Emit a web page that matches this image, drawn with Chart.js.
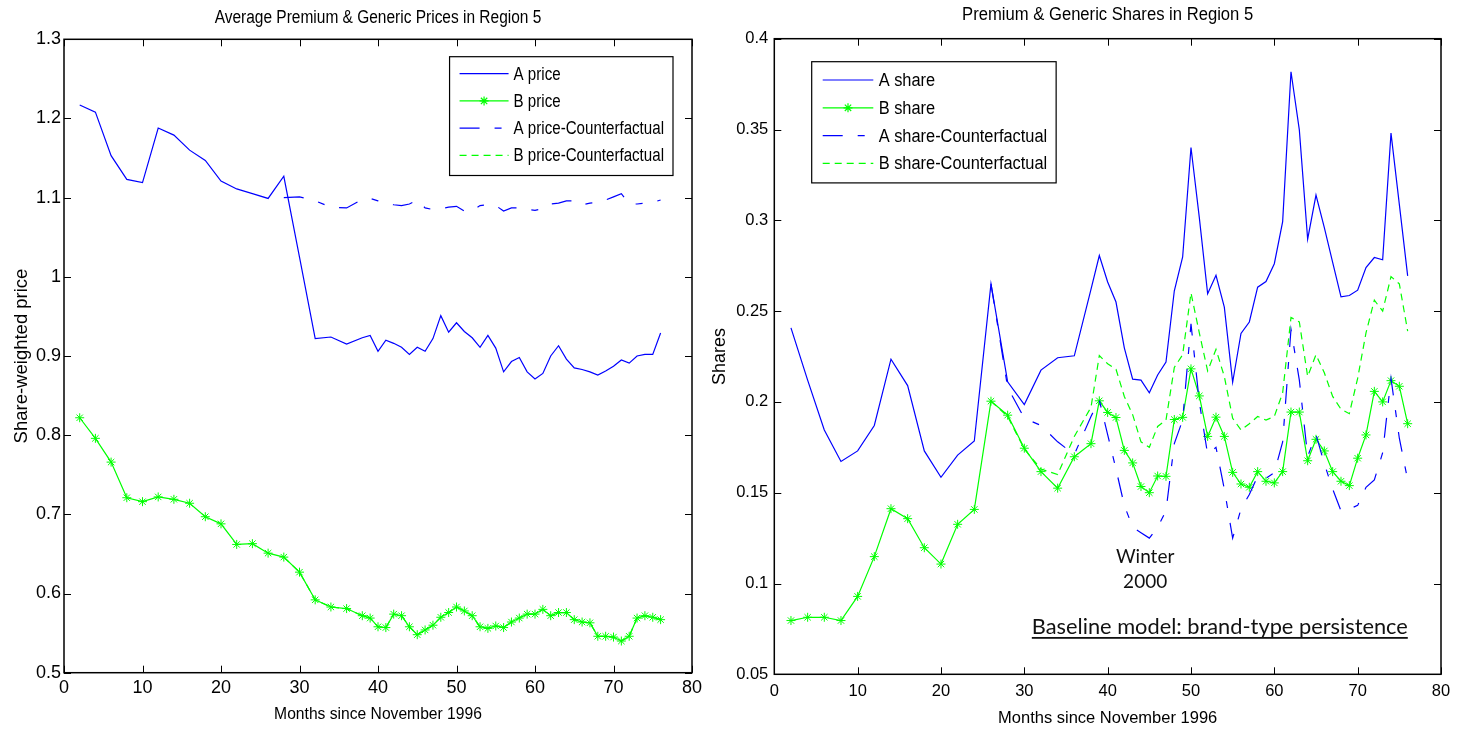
<!DOCTYPE html>
<html>
<head>
<meta charset="utf-8">
<script src="https://cdn.jsdelivr.net/npm/chart.js@4.4.1/dist/chart.umd.min.js"></script>
<style>
  html, body { margin: 0; padding: 0; background: #fff; }
  #wrap { position: relative; width: 1459px; height: 729px; }
  canvas { position: absolute; left: 0; top: 0; }
</style>
</head>
<body>
<div id="wrap">
  <canvas id="prices" width="1459" height="729"></canvas>
  <canvas id="shares" width="1459" height="729"></canvas>
</div>
<script>
// months since November 1996: every other month at first, then monthly
const months = [
  2, 4, 6, 8, 10, 12, 14, 16, 18, 20, 22, 24, 26, 28, 30, 32, 34, 36,
  38, 39, 40, 41, 42, 43, 44, 45, 46, 47, 48, 49, 50, 51, 52, 53, 54, 55, 56, 57,
  58, 59, 60, 61, 62, 63, 64, 65, 66, 67, 68, 69, 70, 71, 72, 73, 74, 75, 76
];
const priceCfMonths = [
  28, 30, 32, 34, 36,
  38, 39, 40, 41, 42, 43, 44, 45, 46, 47, 48, 49, 50, 51, 52, 53, 54, 55, 56, 57,
  58, 59, 60, 61, 62, 63, 64, 65, 66, 67, 68, 69, 70, 71, 72, 73, 74, 75, 76
];
const shareCfMonths = [
  26, 28, 30, 32, 34, 36,
  38, 39, 40, 41, 42, 43, 44, 45, 46, 47, 48, 49, 50, 51, 52, 53, 54, 55, 56, 57,
  58, 59, 60, 61, 62, 63, 64, 65, 66, 67, 68, 69, 70, 71, 72, 73, 74, 75, 76
];

// share-weighted prices
const priceA = [
  1.217, 1.208, 1.153, 1.123, 1.119, 1.188, 1.179, 1.160, 1.147, 1.121, 1.111, 1.105, 1.099, 1.127, 1.025, 0.922, 0.924, 0.915,
  0.923, 0.926, 0.906, 0.920, 0.916, 0.911, 0.902, 0.911, 0.906, 0.922, 0.951, 0.930, 0.942, 0.931, 0.923, 0.911, 0.926, 0.910, 0.880, 0.893,
  0.898, 0.880, 0.871, 0.878, 0.900, 0.913, 0.896, 0.885, 0.883, 0.880, 0.876, 0.881, 0.887, 0.895, 0.891, 0.900, 0.902, 0.902, 0.929
];
const priceB = [
  0.822, 0.796, 0.766, 0.721, 0.716, 0.722, 0.719, 0.714, 0.697, 0.688, 0.662, 0.663, 0.651, 0.646, 0.627, 0.592, 0.583, 0.581,
  0.572, 0.569, 0.558, 0.557, 0.574, 0.572, 0.558, 0.548, 0.554, 0.560, 0.570, 0.576, 0.583, 0.578, 0.572, 0.558, 0.556, 0.559, 0.557, 0.564,
  0.569, 0.574, 0.574, 0.580, 0.572, 0.576, 0.576, 0.567, 0.564, 0.563, 0.546, 0.546, 0.545, 0.540, 0.546, 0.569, 0.572, 0.570, 0.567
];
const priceACf = [
  1.100, 1.101, 1.096, 1.088, 1.087,
  1.098, 1.099, 1.096, 1.093, 1.091, 1.090, 1.092, 1.097, 1.087, 1.085, 1.086, 1.088, 1.089, 1.083, 1.083, 1.090, 1.091, 1.090, 1.083, 1.087,
  1.087, 1.085, 1.084, 1.086, 1.092, 1.093, 1.096, 1.096, 1.091, 1.093, 1.094, 1.097, 1.101, 1.105, 1.092, 1.092, 1.093, 1.094, 1.097
];
// the generic counterfactual price coincides with the observed one
const priceBCf = priceB.slice(months.indexOf(28));

// market shares
const shareA = [
  0.2408, 0.2120, 0.1845, 0.1672, 0.1730, 0.1870, 0.2235, 0.2090, 0.1730, 0.1585, 0.1707, 0.1785, 0.2650, 0.2111, 0.1985, 0.2175, 0.2243, 0.2254,
  0.2620, 0.2806, 0.2660, 0.2550, 0.2298, 0.2125, 0.2120, 0.2050, 0.2148, 0.2220, 0.2612, 0.2798, 0.3401, 0.3015, 0.2595, 0.2697, 0.2522, 0.2108, 0.2377, 0.2440,
  0.2632, 0.2663, 0.2761, 0.2993, 0.3818, 0.3498, 0.2896, 0.3139, 0.2960, 0.2768, 0.2578, 0.2586, 0.2615, 0.2740, 0.2795, 0.2783, 0.3480, 0.3088, 0.2694
];
const shareB = [
  0.0796, 0.0814, 0.0814, 0.0796, 0.0929, 0.1148, 0.1412, 0.1357, 0.1197, 0.1107, 0.1326, 0.1408, 0.2004, 0.1927, 0.1745, 0.1616, 0.1525, 0.1698,
  0.1770, 0.2006, 0.1942, 0.1914, 0.1733, 0.1664, 0.1534, 0.1500, 0.1592, 0.1590, 0.1903, 0.1915, 0.2182, 0.2033, 0.1810, 0.1916, 0.1810, 0.1612, 0.1548, 0.1530,
  0.1616, 0.1563, 0.1554, 0.1616, 0.1944, 0.1944, 0.1676, 0.1794, 0.1730, 0.1616, 0.1563, 0.1539, 0.1690, 0.1818, 0.2058, 0.2000, 0.2117, 0.2086, 0.1880
];
const shareACf = [
  0.2650, 0.2080, 0.1910, 0.1870, 0.1780, 0.1710,
  0.1920, 0.2010, 0.1820, 0.1630, 0.1430, 0.1310, 0.1280, 0.1250, 0.1310, 0.1400, 0.1770, 0.1900, 0.2430, 0.2000, 0.1710, 0.1750, 0.1520, 0.1250, 0.1410, 0.1490,
  0.1590, 0.1580, 0.1610, 0.1780, 0.2400, 0.2120, 0.1700, 0.1820, 0.1660, 0.1520, 0.1400, 0.1410, 0.1430, 0.1530, 0.1570, 0.1720, 0.2130, 0.1800, 0.1570
];
const shareBCf = [
  0.2004, 0.1920, 0.1740, 0.1630, 0.1600, 0.1810,
  0.1970, 0.2255, 0.2210, 0.2180, 0.2030, 0.1930, 0.1780, 0.1750, 0.1865, 0.1900, 0.2190, 0.2260, 0.2600, 0.2380, 0.2170, 0.2290, 0.2140, 0.1910, 0.1845, 0.1880,
  0.1920, 0.1900, 0.1920, 0.2050, 0.2465, 0.2440, 0.2140, 0.2260, 0.2160, 0.2030, 0.1960, 0.1935, 0.2130, 0.2380, 0.2560, 0.2500, 0.2690, 0.2650, 0.2390
];

const BLUE = '#0000ff';
const GREEN = '#00ff00';
const SANS = "'Liberation Sans', Arial, sans-serif";

const pts = (xs, ys) => ys.map((y, i) => ({ x: xs[i], y: y }));

function lineSet(label, xs, ys, color, extra) {
  return Object.assign({
    label: label,
    data: pts(xs, ys),
    borderColor: color,
    backgroundColor: color,
    borderWidth: 1.2,
    pointRadius: 0,
    fill: false,
    tension: 0
  }, extra);
}
const starMarks = { pointStyle: 'star', pointRadius: 4.5, pointBorderWidth: 1, pointHoverRadius: 4.5 };

// text drawn with a horizontal squeeze factor
function squeezed(ctx, text, x, y, sx, align, rot) {
  ctx.save();
  ctx.translate(x, y);
  if (rot) ctx.rotate(rot);
  ctx.scale(sx, 1);
  ctx.textAlign = align || 'center';
  ctx.fillText(text, 0, 0);
  ctx.restore();
}

// box, inward ticks, titles, legend and notes in the style of a MATLAB figure
const frame = {
  id: 'frame',
  afterDraw(chart, args, o) {
    const ctx = chart.ctx;
    const a = chart.chartArea;
    const xs = chart.scales.x, ys = chart.scales.y;
    ctx.save();
    ctx.strokeStyle = '#000';
    ctx.lineWidth = 1.5;
    ctx.strokeRect(a.left, a.top, a.right - a.left, a.bottom - a.top);
    ctx.lineWidth = 1;
    ctx.beginPath();
    xs.ticks.forEach(t => {
      const px = Math.round(xs.getPixelForValue(t.value)) + 0.5;
      ctx.moveTo(px, a.bottom); ctx.lineTo(px, a.bottom - 7);
      ctx.moveTo(px, a.top); ctx.lineTo(px, a.top + 7);
    });
    ys.ticks.forEach(t => {
      const py = Math.round(ys.getPixelForValue(t.value)) + 0.5;
      ctx.moveTo(a.left, py); ctx.lineTo(a.left + 7, py);
      ctx.moveTo(a.right, py); ctx.lineTo(a.right - 7, py);
    });
    ctx.stroke();

    const cx = (a.left + a.right) / 2, cy = (a.top + a.bottom) / 2;
    ctx.fillStyle = '#000';
    ctx.textBaseline = 'alphabetic';
    ctx.font = o.title.size + 'px ' + SANS;
    squeezed(ctx, o.title.text, cx, o.title.y, o.title.sx);
    ctx.font = o.xLabel.size + 'px ' + SANS;
    squeezed(ctx, o.xLabel.text, cx, o.xLabel.y, o.xLabel.sx);
    ctx.font = o.yLabel.size + 'px ' + SANS;
    squeezed(ctx, o.yLabel.text, o.yLabel.x, cy, o.yLabel.sx, 'center', -Math.PI / 2);

    // legend
    const lg = o.legend;
    ctx.font = lg.size + 'px ' + SANS;
    const sets = chart.data.datasets;
    const tw = Math.max(...sets.map(d => ctx.measureText(d.label).width)) * lg.sx;
    const w = lg.textX + tw + 9;
    const h = lg.rowGap * sets.length + 10;
    const bx = lg.side === 'right' ? a.right - lg.dx - w : a.left + lg.dx;
    const by = a.top + lg.dy;
    ctx.fillStyle = '#fff';
    ctx.fillRect(bx, by, w, h);
    ctx.strokeStyle = '#000';
    ctx.lineWidth = 1.2;
    ctx.strokeRect(bx, by, w, h);
    sets.forEach((d, i) => {
      const ry = by + lg.firstRow + i * lg.rowGap;
      ctx.save();
      ctx.strokeStyle = d.borderColor;
      ctx.lineWidth = d.borderWidth;
      ctx.setLineDash(d.borderDash || []);
      ctx.beginPath();
      ctx.moveTo(bx + lg.lineX0, ry);
      ctx.lineTo(bx + lg.lineX1, ry);
      ctx.stroke();
      ctx.restore();
      if (d.pointStyle === 'star') {
        ctx.save();
        ctx.strokeStyle = d.borderColor;
        ctx.fillStyle = d.borderColor;
        Chart.helpers.drawPoint(ctx, { pointStyle: 'star', radius: d.pointRadius, borderWidth: 1 },
          bx + (lg.lineX0 + lg.lineX1) / 2, ry);
        ctx.restore();
      }
      ctx.fillStyle = '#000';
      ctx.textBaseline = 'middle';
      squeezed(ctx, d.label, bx + lg.textX, ry + 1, lg.sx, 'left');
    });

    // free text notes placed in data coordinates
    (o.notes || []).forEach(n => {
      const px = xs.getPixelForValue(n.x), py = ys.getPixelForValue(n.y);
      ctx.font = n.font;
      ctx.fillStyle = '#111';
      ctx.textBaseline = 'alphabetic';
      ctx.textAlign = n.align;
      ctx.fillText(n.text, px, py);
      if (n.underline) {
        const tw2 = ctx.measureText(n.text).width;
        const x0 = n.align === 'center' ? px - tw2 / 2 : px;
        ctx.fillRect(x0, py + 3, tw2, 1.8);
      }
    });
    ctx.restore();
  }
};

const tickFmt = v => String(+Number(v).toFixed(2));

function axes(yMin, yMax, yStep, tickSize, yPad, xPad, yWidth, xHeight) {
  return {
    x: {
      type: 'linear', min: 0, max: 80,
      ticks: { stepSize: 10, color: '#000', font: { family: SANS, size: tickSize }, padding: xPad, callback: tickFmt, maxRotation: 0 },
      grid: { display: false, drawTicks: false },
      border: { display: false },
      afterFit: s => { s.height = xHeight; }
    },
    y: {
      type: 'linear', min: yMin, max: yMax,
      ticks: { stepSize: yStep, color: '#000', font: { family: SANS, size: tickSize }, padding: yPad, callback: tickFmt },
      grid: { display: false, drawTicks: false },
      border: { display: false },
      afterFit: s => { s.width = yWidth; }
    }
  };
}

new Chart(document.getElementById('prices'), {
  type: 'line',
  data: {
    datasets: [
      lineSet('A price', months, priceA, BLUE, { order: 3 }),
      lineSet('B price', months, priceB, GREEN, Object.assign({ order: 2 }, starMarks)),
      lineSet('A price-Counterfactual', priceCfMonths, priceACf, BLUE, { order: 1, borderDash: [20, 15, 7, 15] }),
      lineSet('B price-Counterfactual', priceCfMonths, priceBCf, GREEN, { order: 0, borderDash: [7, 5] })
    ]
  },
  options: {
    responsive: false,
    animation: false,
    events: [],
    layout: { padding: { left: 0, top: 39.3, right: 1459 - 692, bottom: 0 } },
    scales: axes(0.5, 1.3, 0.1, 18, 3, 5, 64, 56.3),
    plugins: {
      legend: { display: false },
      tooltip: { enabled: false },
      frame: {
        title: { text: 'Average Premium & Generic Prices in Region 5', size: 18, sx: 0.86, y: 23 },
        xLabel: { text: 'Months since November 1996', size: 17, sx: 0.92, y: 719 },
        yLabel: { text: 'Share-weighted price', size: 18.5, sx: 1, x: 26.5 },
        legend: { side: 'right', dx: 19, dy: 17.4, size: 18, sx: 0.84, textX: 64, lineX0: 10, lineX1: 59, firstRow: 17, rowGap: 27.2 }
      }
    }
  },
  plugins: [frame]
});

new Chart(document.getElementById('shares'), {
  type: 'line',
  data: {
    datasets: [
      lineSet('A share', months, shareA, BLUE, { order: 3 }),
      lineSet('B share', months, shareB, GREEN, Object.assign({ order: 2 }, starMarks)),
      lineSet('A share-Counterfactual', shareCfMonths, shareACf, BLUE, { order: 1, borderDash: [20, 15, 7, 15] }),
      lineSet('B share-Counterfactual', shareCfMonths, shareBCf, GREEN, { order: 0, borderDash: [7, 5] })
    ]
  },
  options: {
    responsive: false,
    animation: false,
    events: [],
    layout: { padding: { left: 700, top: 38.7, right: 1459 - 1441, bottom: 0 } },
    scales: axes(0.05, 0.4, 0.05, 16.5, 6, 7, 74.3, 54.7),
    plugins: {
      legend: { display: false },
      tooltip: { enabled: false },
      frame: {
        title: { text: 'Premium & Generic Shares in Region 5', size: 17.5, sx: 0.95, y: 20 },
        xLabel: { text: 'Months since November 1996', size: 16.5, sx: 1, y: 722.5 },
        yLabel: { text: 'Shares', size: 18, sx: 1, x: 724.5 },
        legend: { side: 'left', dx: 37.4, dy: 23, size: 18, sx: 0.91, textX: 67, lineX0: 11, lineX1: 61.6, firstRow: 18.3, rowGap: 27.8 },
        notes: [
          { text: 'Winter', x: 44.5, y: 0.1111, font: "19px Lato, 'Open Sans', sans-serif", align: 'center' },
          { text: '2000', x: 44.5, y: 0.0974, font: "19px Lato, 'Open Sans', sans-serif", align: 'center' },
          { text: 'Baseline model: brand-type persistence', x: 30.9, y: 0.0722, font: "21.8px Lato, 'Open Sans', sans-serif", align: 'left', underline: true }
        ]
      }
    }
  },
  plugins: [frame]
});
</script>
</body>
</html>
